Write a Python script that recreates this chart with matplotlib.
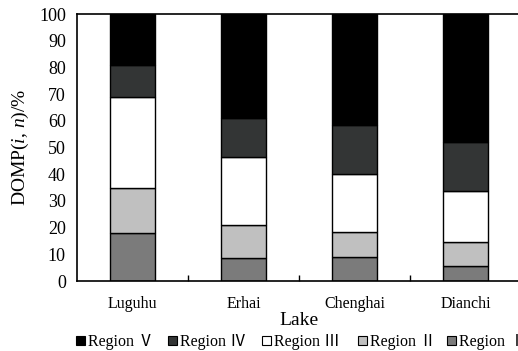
import matplotlib
matplotlib.use("Agg")
import matplotlib.pyplot as plt
import numpy as np
from matplotlib.patches import Patch

lakes = ["Luguhu", "Erhai", "Chenghai", "Dianchi"]
region1 = [18.0, 8.5, 9.0, 5.6]
region2 = [17.0, 12.5, 9.5, 9.0]
region3 = [34.0, 25.5, 21.5, 19.1]
region4 = [12.0, 14.5, 18.5, 18.3]
region5 = [19.0, 39.0, 41.5, 48.0]
series = [region1, region2, region3, region4, region5]
names = ["Region Ⅰ", "Region Ⅱ", "Region Ⅲ", "Region Ⅳ", "Region Ⅴ"]
colors = ["#7b7b7b", "#c0c0c0", "#ffffff", "#333535", "#000000"]
yticks = list(range(0, 101, 10))

serif = ["Liberation Serif", "Noto Sans CJK SC", "DejaVu Serif"]
plt.rcParams['font.family'] = serif
plt.rcParams['mathtext.fontset'] = 'custom'
plt.rcParams['mathtext.rm'] = 'Liberation Serif'
plt.rcParams['mathtext.it'] = 'Liberation Serif:italic'

W, H = 518, 351
fig = plt.figure(figsize=(W / 100, H / 100), dpi=100)
ax = fig.add_axes([0.1486, 0.1994, 0.857, 0.7606])
x = np.arange(len(lakes))
bottom = np.zeros(len(lakes))
handles = []
for vals, name, c in zip(series, names, colors):
    ax.bar(x, vals, width=0.4, bottom=bottom, color=c, edgecolor="black", linewidth=1.0, zorder=2)
    bottom += np.array(vals)
    handles.append(Patch(facecolor=c, edgecolor="black", linewidth=0.8, label=name))

ax.set_xlim(-0.5, 3.5)
ax.set_ylim(0, 100)
ax.set_yticks(yticks)
ax.set_yticklabels([str(t) for t in yticks], fontsize=13)
ax.tick_params(axis='y', length=0, pad=8)
ax.set_xticks(x)
ax.set_xticklabels(lakes, fontsize=11.5)
ax.tick_params(axis='x', which='major', length=0, pad=11)
ax.set_xticks([0.5, 1.5, 2.5], minor=True)
ax.tick_params(axis='x', which='minor', direction='in', length=4, width=1)
for s in ax.spines.values():
    s.set_linewidth(1.2)
ax.set_ylabel("DOMP($i$, $n$)/%", fontsize=14, labelpad=6)
ax.set_xlabel("Lake", fontsize=14, labelpad=0)

# legend entries, in reference order V..I, each anchored at its marker position (pixels)
leg_x = [76, 168, 262, 358, 447]
for h, px in zip(handles[::-1], leg_x):
    lg = fig.legend(handles=[h], loc='center left', bbox_to_anchor=(px / W, 1 - 342 / H),
                    frameon=False, fontsize=11.5, handlelength=0.55, handleheight=0.55,
                    handletextpad=0.2, borderaxespad=0, borderpad=0)
fig.savefig("out.png", dpi=100)
